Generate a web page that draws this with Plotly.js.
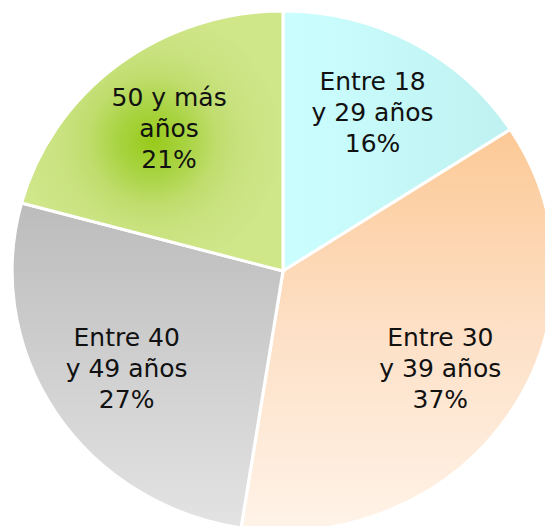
<!DOCTYPE html>
<html>
<head>
<meta charset="utf-8">
<script src="https://cdn.plot.ly/plotly-3.0.1.min.js"></script>
<style>
html,body{margin:0;padding:0;background:#fff;overflow:hidden;width:545px;height:526px;}
#chart{width:540px;height:545px;transform:scaleX(1.042);transform-origin:0 0;}
</style>
</head>
<body>
<div id="chart"></div>
<script>
var categories = ["Entre 18<br>y 29 años", "Entre 30<br>y 39 años", "Entre 40<br>y 49 años", "50 y más<br>años"];
var values = [16, 37, 27, 21];
var colors = ["#c4f7f7", "#fde0c5", "#cecece", "#bcdc6c"];

var W = 540, H = 545;
var cx = 271.6, cy = 271, R = 260;
var labelFrac = 0.69;

var total = values.reduce(function(a, b){ return a + b; }, 0);
var annotations = [];
var cum = 0;
for (var i = 0; i < values.length; i++) {
  var mid = (cum + values[i] / 2) / total * 2 * Math.PI;
  cum += values[i];
  var px = cx + labelFrac * R * Math.sin(mid);
  var py = cy - labelFrac * R * Math.cos(mid);
  annotations.push({
    xref: "paper", yref: "paper",
    x: px / W, y: 1 - py / H,
    xanchor: "center", yanchor: "middle",
    showarrow: false,
    text: categories[i] + "<br>" + values[i] + "%",
    font: {family: "DejaVu Sans", size: 24, color: "#111111"}
  });
}

Plotly.newPlot("chart", [{
  type: "pie",
  labels: categories,
  values: values,
  sort: false,
  direction: "clockwise",
  rotation: 0,
  marker: {colors: colors, line: {color: "#ffffff", width: 3}},
  textinfo: "none",
  hoverinfo: "none",
  domain: {x: [(cx - R) / W, (cx + R) / W], y: [1 - (cy + R) / H, 1 - (cy - R) / H]}
}], {
  width: W,
  height: H,
  margin: {l: 0, r: 0, t: 0, b: 0},
  showlegend: false,
  paper_bgcolor: "#ffffff",
  annotations: annotations
}, {displayModeBar: false, staticPlot: true}).then(function(gd){
  var ns = "http://www.w3.org/2000/svg";
  var svg = gd.querySelector("svg.main-svg");
  var defs = svg.querySelector("defs") || svg.insertBefore(document.createElementNS(ns, "defs"), svg.firstChild);
  function addStops(g, stops) {
    stops.forEach(function(s){
      var st = document.createElementNS(ns, "stop");
      st.setAttribute("offset", s[0]); st.setAttribute("stop-color", s[1]);
      g.appendChild(st);
    });
    defs.appendChild(g);
  }
  function lin(id, x2, y2, stops) {
    var g = document.createElementNS(ns, "linearGradient");
    g.setAttribute("id", id);
    g.setAttribute("x1", "0"); g.setAttribute("y1", "0");
    g.setAttribute("x2", x2); g.setAttribute("y2", y2);
    addStops(g, stops);
  }
  function rad(id, gx, gy, r, stops) {
    var g = document.createElementNS(ns, "radialGradient");
    g.setAttribute("id", id);
    g.setAttribute("cx", gx); g.setAttribute("cy", gy); g.setAttribute("r", r);
    addStops(g, stops);
  }
  lin("gr0", "1", "0", [[0, "#cbfefe"], [1, "#bff1f1"]]);
  lin("gr1", "0", "1", [[0, "#fcc996"], [0.5, "#fde0c6"], [1, "#fff3e8"]]);
  lin("gr2", "0", "1", [[0, "#bcbcbc"], [1, "#e3e3e3"]]);
  rad("gr3", "0.5", "0.5", "0.5", [[0, "#98ca1a"], [0.25, "#a8d340"], [0.5, "#c0dd6e"], [0.72, "#cae381"], [1, "#cfe689"]]);
  var paths = gd.querySelectorAll("g.slice path.surface");
  paths.forEach(function(p, k){ p.style.fill = "url(#gr" + k + ")"; });
});
</script>
</body>
</html>
